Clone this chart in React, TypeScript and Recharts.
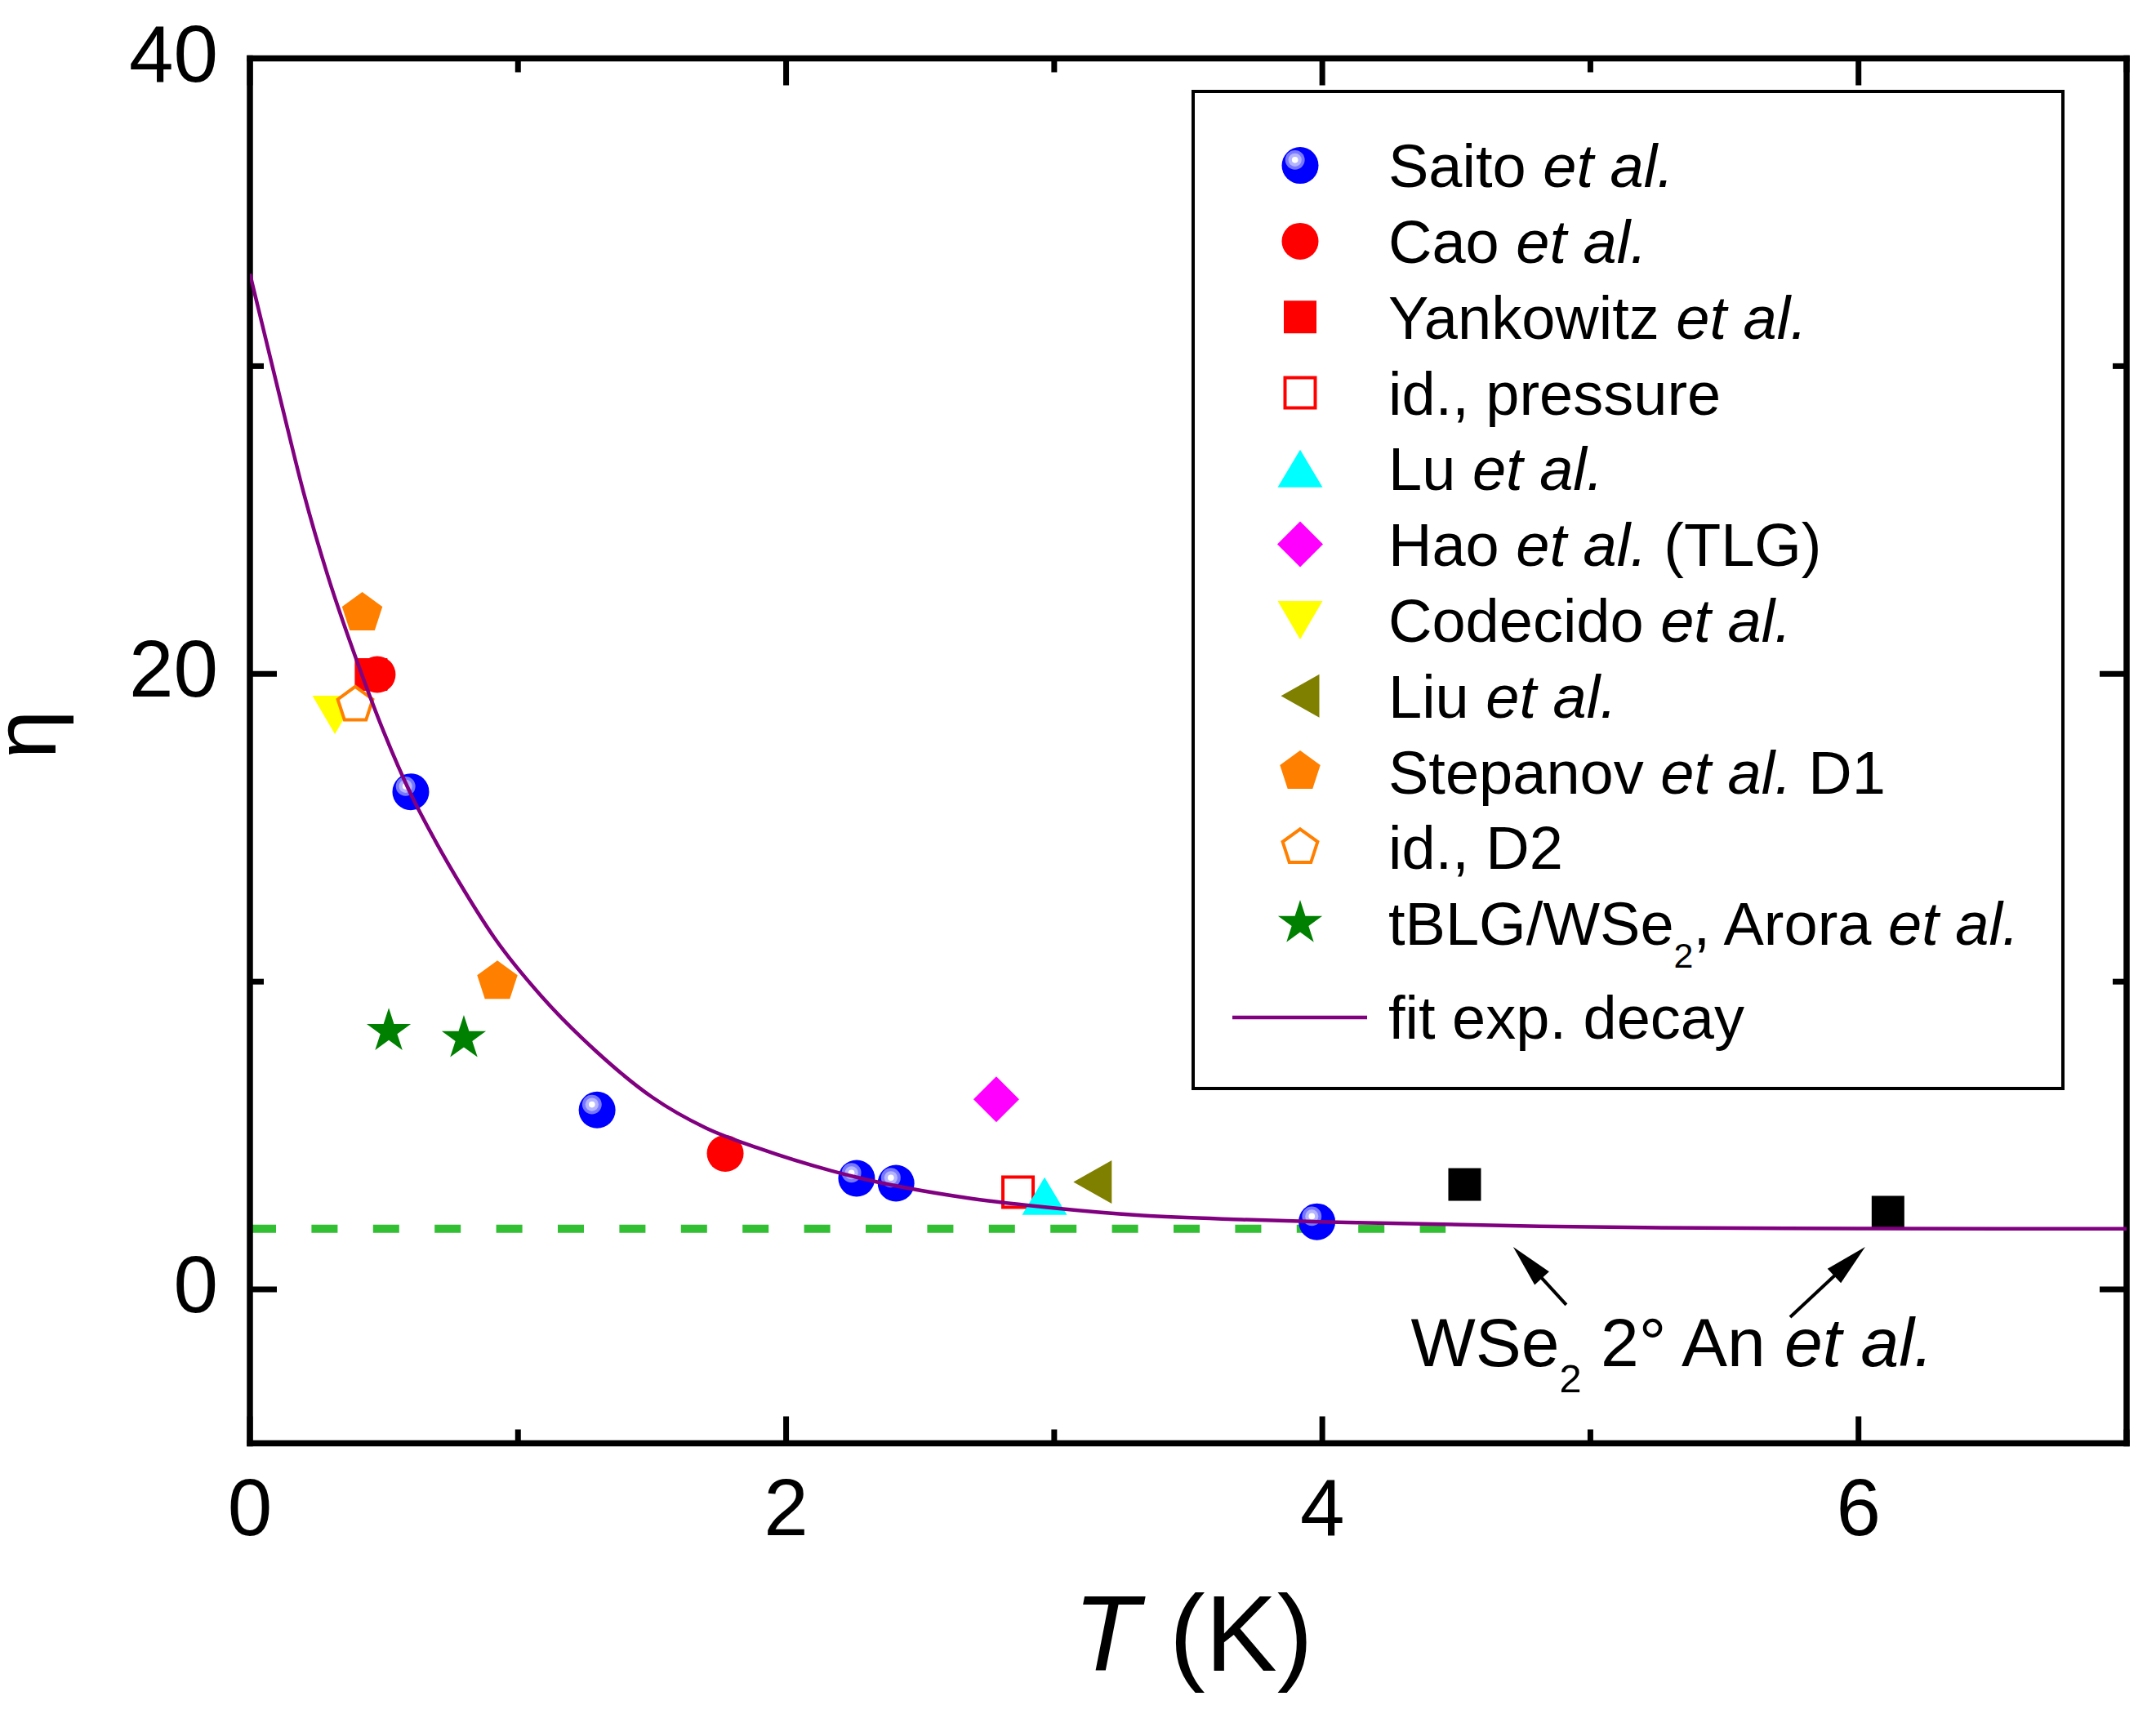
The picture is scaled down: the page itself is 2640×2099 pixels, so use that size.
import {
  ComposedChart,
  Legend,
  Line,
  ReferenceLine,
  Scatter,
  XAxis,
  YAxis,
} from "recharts";

// ---- data: T (K) and eta ----
const saitoT = [0.6, 1.295, 2.263, 2.41, 3.98];
const saitoEta = [16.17, 5.83, 3.61, 3.45, 2.2];
const caoT = [0.475, 1.773];
const caoEta = [19.98, 4.42];
const yankowitzT = [0.452];
const yankowitzEta = [19.98];
const pressureT = [2.865];
const pressureEta = [3.16];
const luT = [2.964];
const luEta = [3.03];
const haoT = [2.784];
const haoEta = [6.18];
const codecidoT = [0.317];
const codecidoEta = [18.67];
const liuT = [3.143];
const liuEta = [3.49];
const stepanovD1T = [0.419, 0.923];
const stepanovD1Eta = [21.97, 10.0];
const stepanovD2T = [0.393];
const stepanovD2Eta = [18.99];
const aroraT = [0.518, 0.798];
const aroraEta = [8.39, 8.16];
const anT = [4.531, 6.11];
const anEta = [3.41, 2.51];

// exponential-decay fit, sampled along the drawn curve
const fitT = [0, 0.12, 0.2, 0.29, 0.4, 0.5, 0.6, 0.69, 0.8, 0.91, 1.09, 1.29, 1.5, 1.7, 1.9, 2.27, 2.67, 2.98, 3.33, 3.7, 4.09, 4.81, 5.2, 6.0, 7.0];
const fitEta = [33.0, 28.7, 25.9, 23.2, 20.4, 18.1, 16.1, 14.6, 12.95, 11.45, 9.5, 7.75, 6.25, 5.25, 4.58, 3.63, 2.98, 2.66, 2.4, 2.27, 2.18, 2.05, 2.01, 1.98, 1.97];

// green dashed asymptote
const floorT = [0, 4.46];
const floorEta = [1.97, 1.97];

const xTicks = [0, 1, 2, 3, 4, 5, 6, 7];
const yTicks = [0, 10, 20, 30, 40];

// annotation "WSe2 2° An et al." and its two arrows (tail -> tip)
const annotationAt = [{ t: 4.33, eta: -2.49 }];
const arrows = [
  { from: { x: 4.91, y: -0.5 }, to: { x: 4.712, y: 1.38 } },
  { from: { x: 5.745, y: -0.9 }, to: { x: 6.025, y: 1.38 } },
];

// ---- styling ----
const FONT = '"Liberation Sans", Arial, Helvetica, sans-serif';
const PURPLE = "#800080";
const FLOOR_GREEN = "#33bf33";
const AXIS = { stroke: "#000", strokeWidth: 7.5, strokeLinecap: "square" as const };
const MAJOR = 33;
const MINOR = 17;
const TICK_W = 7;
const LEGEND_FONT = 74;

type Pt = { t: number; eta: number };
const zip = (ts: number[], etas: number[]): Pt[] => ts.map((t, i) => ({ t, eta: etas[i] }));

type MarkerKind =
  | "sphere"
  | "circle"
  | "square"
  | "squareOpen"
  | "triUp"
  | "diamond"
  | "triDown"
  | "triLeft"
  | "pentagon"
  | "pentagonOpen"
  | "star"
  | "squareBlack";

type Part = { s: string; i?: boolean; sub?: boolean };

interface Series {
  key: string;
  kind: MarkerKind;
  t: number[];
  eta: number[];
  label: Part[];
}

const series: Series[] = [
  { key: "saito", kind: "sphere", t: saitoT, eta: saitoEta, label: [{ s: "Saito " }, { s: "et al.", i: true }] },
  { key: "cao", kind: "circle", t: caoT, eta: caoEta, label: [{ s: "Cao " }, { s: "et al.", i: true }] },
  { key: "yankowitz", kind: "square", t: yankowitzT, eta: yankowitzEta, label: [{ s: "Yankowitz " }, { s: "et al.", i: true }] },
  { key: "pressure", kind: "squareOpen", t: pressureT, eta: pressureEta, label: [{ s: "id., pressure" }] },
  { key: "lu", kind: "triUp", t: luT, eta: luEta, label: [{ s: "Lu " }, { s: "et al.", i: true }] },
  { key: "hao", kind: "diamond", t: haoT, eta: haoEta, label: [{ s: "Hao " }, { s: "et al.", i: true }, { s: " (TLG)" }] },
  { key: "codecido", kind: "triDown", t: codecidoT, eta: codecidoEta, label: [{ s: "Codecido " }, { s: "et al.", i: true }] },
  { key: "liu", kind: "triLeft", t: liuT, eta: liuEta, label: [{ s: "Liu " }, { s: "et al.", i: true }] },
  { key: "stepanovD1", kind: "pentagon", t: stepanovD1T, eta: stepanovD1Eta, label: [{ s: "Stepanov " }, { s: "et al.", i: true }, { s: " D1" }] },
  { key: "stepanovD2", kind: "pentagonOpen", t: stepanovD2T, eta: stepanovD2Eta, label: [{ s: "id., D2" }] },
  {
    key: "arora",
    kind: "star",
    t: aroraT,
    eta: aroraEta,
    label: [{ s: "tBLG/WSe" }, { s: "2", sub: true }, { s: ", Arora " }, { s: "et al.", i: true }],
  },
];

const annotationLabel: Part[] = [{ s: "WSe" }, { s: "2", sub: true }, { s: " 2° An " }, { s: "et al.", i: true }];

function renderParts(parts: Part[], size: number) {
  const out: JSX.Element[] = [];
  let lowered = false;
  parts.forEach((p, k) => {
    if (p.sub) {
      out.push(
        <tspan key={k} dy={size * 0.38} fontSize={size * 0.58}>
          {p.s}
        </tspan>
      );
      lowered = true;
    } else {
      out.push(
        <tspan key={k} dy={lowered ? -size * 0.38 : undefined} fontStyle={p.i ? "italic" : undefined}>
          {p.s}
        </tspan>
      );
      lowered = false;
    }
  });
  return out;
}

function regular(cx: number, cy: number, n: number, R: number): string {
  const pts: string[] = [];
  for (let k = 0; k < n; k++) {
    const a = ((-90 + (k * 360) / n) * Math.PI) / 180;
    pts.push(`${cx + R * Math.cos(a)},${cy + R * Math.sin(a)}`);
  }
  return pts.join(" ");
}

function starPoints(cx: number, cy: number, R: number, r: number): string {
  const pts: string[] = [];
  for (let k = 0; k < 10; k++) {
    const a = ((-90 + k * 36) * Math.PI) / 180;
    const rad = k % 2 === 0 ? R : r;
    pts.push(`${cx + rad * Math.cos(a)},${cy + rad * Math.sin(a)}`);
  }
  return pts.join(" ");
}

function drawMarker(kind: MarkerKind, cx: number, cy: number) {
  switch (kind) {
    case "sphere": {
      const r = 22.5;
      const hx = cx - 0.28 * r;
      const hy = cy - 0.3 * r;
      return (
        <g>
          <circle cx={cx} cy={cy} r={r} fill="#0000ff" />
          <circle cx={hx} cy={hy} r={0.53 * r} fill="#7878ff" />
          <circle cx={hx} cy={hy} r={0.36 * r} fill="#b4b4ff" />
          <circle cx={hx} cy={hy} r={0.17 * r} fill="#ffffff" />
        </g>
      );
    }
    case "circle":
      return <circle cx={cx} cy={cy} r={22.5} fill="#ff0000" />;
    case "square":
      return <rect x={cx - 20} y={cy - 20} width={40} height={40} fill="#ff0000" />;
    case "squareBlack":
      return <rect x={cx - 20} y={cy - 20} width={40} height={40} fill="#000000" />;
    case "squareOpen":
      return <rect x={cx - 18.5} y={cy - 18.5} width={37} height={37} fill="#ffffff" stroke="#ff0000" strokeWidth={4} />;
    case "triUp":
      return <polygon points={`${cx},${cy - 23} ${cx + 27.5},${cy + 23} ${cx - 27.5},${cy + 23}`} fill="#00ffff" />;
    case "triDown":
      return <polygon points={`${cx - 27.5},${cy - 23.5} ${cx + 27.5},${cy - 23.5} ${cx},${cy + 23.5}`} fill="#ffff00" />;
    case "triLeft":
      return <polygon points={`${cx - 23.5},${cy} ${cx + 23.5},${cy - 26.5} ${cx + 23.5},${cy + 26.5}`} fill="#808000" />;
    case "diamond":
      return <polygon points={`${cx},${cy - 28} ${cx + 28},${cy} ${cx},${cy + 28} ${cx - 28},${cy}`} fill="#ff00ff" />;
    case "pentagon":
      return <polygon points={regular(cx, cy, 5, 26)} fill="#ff8000" />;
    case "pentagonOpen":
      return <polygon points={regular(cx, cy, 5, 22.5)} fill="#ffffff" stroke="#ff8000" strokeWidth={4} />;
    case "star":
      return <polygon points={starPoints(cx, cy, 28.5, 28.5 * 0.382)} fill="#008000" />;
  }
  return null;
}

const markerShape = (kind: MarkerKind) => (p: any) => drawMarker(kind, p.cx, p.cy);

// ---- axis ticks, drawn inward ----
const BottomTick = (p: any) => {
  const v = p.payload.value as number;
  const major = v % 2 === 0;
  return (
    <g>
      <line x1={p.x} y1={p.y} x2={p.x} y2={p.y - (major ? MAJOR : MINOR)} stroke="#000" strokeWidth={TICK_W} />
      {major && (
        <text x={p.x} y={p.y + 112} textAnchor="middle" fontSize={98} fontFamily={FONT} fill="#000">
          {v}
        </text>
      )}
    </g>
  );
};

const TopTick = (p: any) => {
  const v = p.payload.value as number;
  const major = v % 2 === 0;
  return <line x1={p.x} y1={p.y} x2={p.x} y2={p.y + (major ? MAJOR : MINOR)} stroke="#000" strokeWidth={TICK_W} />;
};

const LeftTick = (p: any) => {
  const v = p.payload.value as number;
  const major = v % 20 === 0;
  return (
    <g>
      <line x1={p.x} y1={p.y} x2={p.x + (major ? MAJOR : MINOR)} y2={p.y} stroke="#000" strokeWidth={TICK_W} />
      {major && (
        <text x={p.x - 39} y={p.y + 28} textAnchor="end" fontSize={98} fontFamily={FONT} fill="#000">
          {v}
        </text>
      )}
    </g>
  );
};

const RightTick = (p: any) => {
  const v = p.payload.value as number;
  const major = v % 20 === 0;
  return <line x1={p.x} y1={p.y} x2={p.x - (major ? MAJOR : MINOR)} y2={p.y} stroke="#000" strokeWidth={TICK_W} />;
};

const XTitle = (p: any) => {
  const vb = p.viewBox;
  return (
    <text x={vb.x + vb.width / 2 + 6} y={vb.y + 278.5} textAnchor="middle" fontSize={132} fontFamily={FONT} fill="#000">
      <tspan fontStyle="italic">T</tspan>
      <tspan> (K)</tspan>
    </text>
  );
};

const YTitle = (p: any) => {
  const vb = p.viewBox;
  const x = vb.x + vb.width - 238;
  const y = vb.y + vb.height / 2 - 20;
  return (
    <text x={x} y={y} transform={`rotate(-90 ${x} ${y})`} textAnchor="middle" fontSize={108} fontFamily={FONT} fill="#000">
      η
    </text>
  );
};

const Arrow = (p: any) => {
  const { x1, y1, x2, y2 } = p;
  const dx = x2 - x1;
  const dy = y2 - y1;
  const len = Math.hypot(dx, dy) || 1;
  const ux = dx / len;
  const uy = dy / len;
  const hl = 52;
  const hw = 12;
  const bx = x2 - ux * hl;
  const by = y2 - uy * hl;
  return (
    <g>
      <line x1={x1} y1={y1} x2={bx + ux * 6} y2={by + uy * 6} stroke="#000" strokeWidth={4} />
      <polygon points={`${x2},${y2} ${bx - uy * hw},${by + ux * hw} ${bx + uy * hw},${by - ux * hw}`} fill="#000" />
    </g>
  );
};

const AnnotationText = (p: any) => (
  <text x={p.cx} y={p.cy} fontSize={84} fontFamily={FONT} fill="#000">
    {renderParts(annotationLabel, 84)}
  </text>
);

// legend box: sits at (1459, 110) in the chart, markers at x=133, text at x=241
const LEGEND_ROW0 = 92.6;
const LEGEND_STEP = 92.8;

const renderLegend = () => (
  <svg width={1069} height={1225} style={{ display: "block" }}>
    <rect x={2} y={2} width={1065} height={1221} fill="#fff" stroke="#000" strokeWidth={4} />
    {series.map((s, i) => {
      const cy = LEGEND_ROW0 + i * LEGEND_STEP;
      return (
        <g key={s.key}>
          {drawMarker(s.kind, 133, cy)}
          <text x={241} y={cy + 26.5} fontSize={LEGEND_FONT} fontFamily={FONT} fill="#000">
            {renderParts(s.label, LEGEND_FONT)}
          </text>
        </g>
      );
    })}
    <line x1={50} y1={1136} x2={215} y2={1136} stroke={PURPLE} strokeWidth={4.5} />
    <text x={241} y={1162} fontSize={LEGEND_FONT} fontFamily={FONT} fill="#000">
      fit exp. decay
    </text>
  </svg>
);

export default function App() {
  const fitData = zip(fitT, fitEta);
  const floorData = zip(floorT, floorEta);
  return (
    <div style={{ position: "absolute", left: 0, top: 0, width: 2640, height: 2099, background: "#fff" }}>
      <ComposedChart width={2640} height={2099} margin={{ top: 70.5, right: 35, bottom: 330.5, left: 305 }}>
        <XAxis
          type="number"
          dataKey="t"
          domain={[0, 7]}
          ticks={xTicks}
          interval={0}
          allowDataOverflow
          height={1}
          tickSize={0}
          tickMargin={0}
          tickLine={false}
          axisLine={AXIS}
          tick={BottomTick}
          label={XTitle}
        />
        <XAxis
          xAxisId="top"
          orientation="top"
          type="number"
          dataKey="t"
          domain={[0, 7]}
          ticks={xTicks}
          interval={0}
          allowDataOverflow
          height={1}
          tickSize={0}
          tickMargin={0}
          tickLine={false}
          axisLine={AXIS}
          tick={TopTick}
        />
        <YAxis
          type="number"
          dataKey="eta"
          domain={[-5, 40]}
          ticks={yTicks}
          interval={0}
          allowDataOverflow
          width={1}
          tickSize={0}
          tickMargin={0}
          tickLine={false}
          axisLine={AXIS}
          tick={LeftTick}
          label={YTitle}
        />
        <YAxis
          yAxisId="right"
          orientation="right"
          type="number"
          dataKey="eta"
          domain={[-5, 40]}
          ticks={yTicks}
          interval={0}
          allowDataOverflow
          width={1}
          tickSize={0}
          tickMargin={0}
          tickLine={false}
          axisLine={AXIS}
          tick={RightTick}
        />

        <Line
          data={floorData}
          dataKey="eta"
          type="linear"
          stroke={FLOOR_GREEN}
          strokeWidth={10}
          strokeDasharray="32 43.4"
          dot={false}
          activeDot={false}
          isAnimationActive={false}
        />

        {series.map((s) => (
          <Scatter
            key={s.key}
            name={s.key}
            data={zip(s.t, s.eta)}
            dataKey="eta"
            shape={markerShape(s.kind)}
            isAnimationActive={false}
          />
        ))}
        <Scatter name="an" data={zip(anT, anEta)} dataKey="eta" shape={markerShape("squareBlack")} isAnimationActive={false} />
        <Scatter name="annotation" data={annotationAt} dataKey="eta" shape={AnnotationText} isAnimationActive={false} />

        {arrows.map((a, i) => (
          <ReferenceLine key={i} segment={[a.from, a.to]} shape={Arrow} ifOverflow="visible" />
        ))}

        <Line
          data={fitData}
          dataKey="eta"
          type="monotone"
          stroke={PURPLE}
          strokeWidth={4.5}
          dot={false}
          activeDot={false}
          isAnimationActive={false}
          zIndex={700}
        />

        <Legend
          layout="vertical"
          align="center"
          verticalAlign="middle"
          content={renderLegend}
          wrapperStyle={{ left: 1459, top: 110, width: 1069, height: 1225 }}
        />
      </ComposedChart>
    </div>
  );
}
